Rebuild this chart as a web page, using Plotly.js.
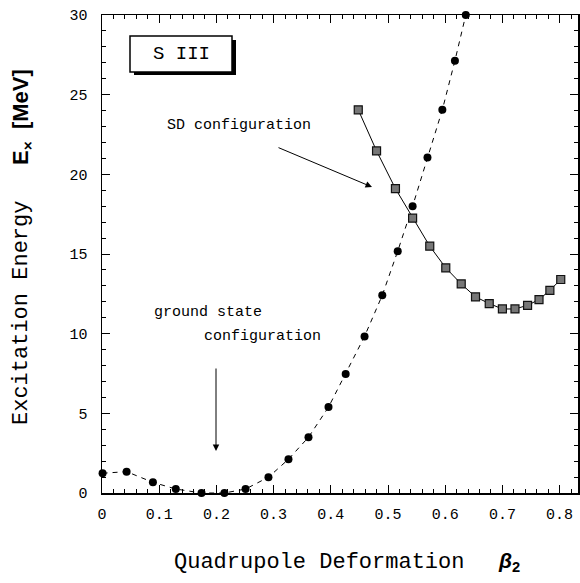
<!DOCTYPE html>
<html>
<head>
<meta charset="utf-8">
<script src="https://cdn.plot.ly/plotly-3.0.1.min.js"></script>
<style>
html,body{margin:0;padding:0;background:#fff;}
#chart{width:580px;height:583px;}
</style>
</head>
<body>
<div id="chart"></div>
<script>
// Ground state configuration (dashed line, filled circles)
var gsBeta = [0.001, 0.043, 0.089, 0.129, 0.174, 0.214, 0.251, 0.291, 0.326, 0.361, 0.396, 0.426, 0.459, 0.490, 0.517, 0.543, 0.569, 0.595, 0.617, 0.636];
var gsE    = [1.24, 1.34, 0.67, 0.25, 0.0, 0.0, 0.25, 0.99, 2.12, 3.50, 5.39, 7.47, 9.83, 12.41, 15.18, 18.00, 21.05, 24.05, 27.13, 30.00];

// Superdeformed (SD) configuration (solid line, hatched squares)
var sdBeta = [0.448, 0.480, 0.513, 0.543, 0.573, 0.601, 0.628, 0.653, 0.677, 0.700, 0.722, 0.744, 0.764, 0.783, 0.802];
var sdE    = [24.05, 21.47, 19.10, 17.25, 15.49, 14.13, 13.12, 12.31, 11.89, 11.55, 11.55, 11.78, 12.14, 12.72, 13.40];

// Tick labels
var xTickVals = [0, 0.1, 0.2, 0.3, 0.4, 0.5, 0.6, 0.7, 0.8];
var xTickText = ['0', '0.1', '0.2', '0.3', '0.4', '0.5', '0.6', '0.7', '0.8'];
var yTickVals = [0, 5, 10, 15, 20, 25, 30];
var yTickText = ['0', '5', '10', '15', '20', '25', '30'];

// Layout geometry (pixels)
var W = 580, H = 583;
var L = 102, R = 2, T = 15, B = 90;
var pw = W - L - R, ph = H - T - B;
function px(x) { return (x - L) / pw; }       // pixel -> paper x
function py(y) { return (H - B - y) / ph; }   // pixel -> paper y

var mono = 'Liberation Mono, DejaVu Sans Mono, monospace';

var traces = [
  {
    x: gsBeta, y: gsE, type: 'scatter', mode: 'lines+markers',
    line: {color: '#000', width: 1, dash: '5px,5px'},
    marker: {symbol: 'circle', size: 8, color: '#000'},
    cliponaxis: false, hoverinfo: 'skip', showlegend: false
  },
  {
    x: sdBeta, y: sdE, type: 'scatter', mode: 'lines+markers',
    line: {color: '#000', width: 1},
    marker: {symbol: 'square', size: 8, color: '#777', line: {color: '#111', width: 1.2}},
    cliponaxis: false, hoverinfo: 'skip', showlegend: false
  }
];

var axisCommon = {
  showgrid: false, zeroline: false,
  showline: true, linecolor: '#000', linewidth: 1.5,
  mirror: 'allticks', ticks: 'inside', ticklen: 8, tickwidth: 1, tickcolor: '#000',
  tickfont: {family: mono, size: 15, color: '#000'}
};

function txt(x, y, text, font, extra) {
  return Object.assign({xref: 'paper', yref: 'paper', x: px(x), y: py(y), text: text,
    showarrow: false, xanchor: 'center', yanchor: 'middle', font: font}, extra || {});
}
function arrow(x0, y0, x1, y1) {
  return {xref: 'paper', yref: 'paper', x: px(x1), y: py(y1), ax: px(x0), ay: py(y0),
    axref: 'paper', ayref: 'paper', text: '', showarrow: true,
    arrowhead: 2, arrowsize: 1.3, arrowwidth: 1, arrowcolor: '#000'};
}

var layout = {
  width: W, height: H,
  margin: {l: L, r: R, t: T, b: B, pad: 0},
  paper_bgcolor: '#fff', plot_bgcolor: '#fff',
  xaxis: Object.assign({}, axisCommon, {
    range: [0, pw / 572], tickmode: 'array', tickvals: xTickVals, ticktext: xTickText,
    minor: {dtick: 0.02, ticks: 'inside', ticklen: 4, tickwidth: 1, tickcolor: '#000'},
    ticklabelstandoff: 6
  }),
  yaxis: Object.assign({}, axisCommon, {
    range: [0, 30], tickmode: 'array', tickvals: yTickVals, ticktext: yTickText,
    minor: {dtick: 1, ticks: 'inside', ticklen: 4, tickwidth: 1, tickcolor: '#000'},
    ticklabelstandoff: 10
  }),
  shapes: [
    {type: 'rect', xref: 'paper', yref: 'paper', x0: px(134), x1: px(236), y0: py(75), y1: py(40),
     fillcolor: '#000', line: {width: 0}, layer: 'below'},
    {type: 'rect', xref: 'paper', yref: 'paper', x0: px(130), x1: px(232), y0: py(72), y1: py(36),
     fillcolor: '#fff', line: {color: '#000', width: 1.5}, layer: 'below'}
  ],
  annotations: [
    txt(181, 54, 'S III', {family: mono, size: 19, color: '#000'}),
    txt(239, 125, 'SD configuration', {family: mono, size: 15, color: '#000'}),
    arrow(277, 147, 372, 187),
    txt(208, 312, 'ground state', {family: mono, size: 15, color: '#000'}),
    txt(262, 337, 'configuration', {family: mono, size: 15, color: '#000'}),
    arrow(216, 367, 216, 451),
    txt(319, 562, 'Quadrupole Deformation', {family: mono, size: 22, color: '#000'}),
    txt(509, 562, '<b><i>β</i><sub>2</sub></b>', {family: 'Liberation Sans, Arial, sans-serif', size: 21, color: '#000'}),
    txt(21, 313, 'Excitation Energy', {family: mono, size: 22, color: '#000'}, {textangle: -90}),
    txt(22, 117, '<b>E<sub>×</sub>  [MeV]</b>', {family: 'Liberation Sans, Arial, sans-serif', size: 22, color: '#000'}, {textangle: -90})
  ]
};

Plotly.newPlot('chart', traces, layout, {staticPlot: true, displayModeBar: false});
</script>
</body>
</html>
